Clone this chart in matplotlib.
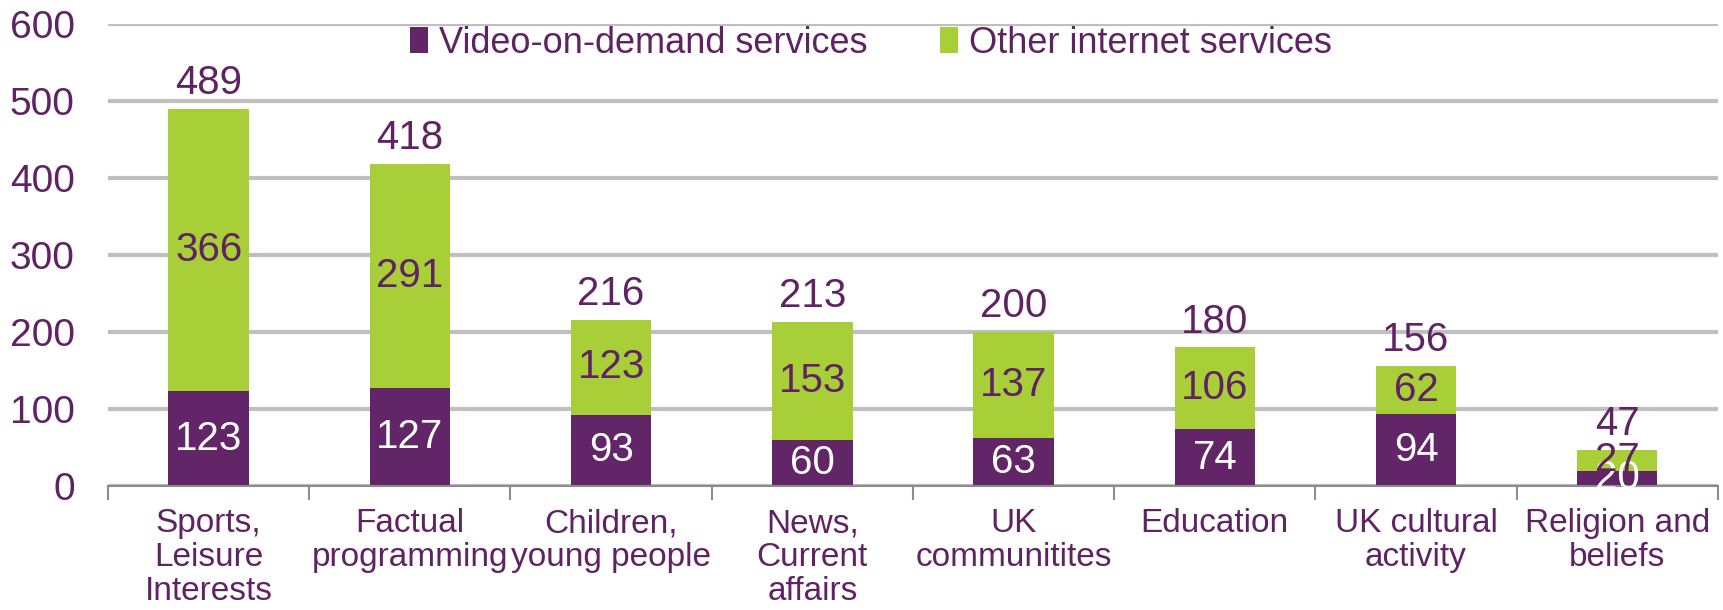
import matplotlib
matplotlib.use("Agg")
import matplotlib.pyplot as plt
from matplotlib import font_manager
import numpy as np

categories = ["Sports,\nLeisure\nInterests", "Factual\nprogramming", "Children,\nyoung people",
              "News,\nCurrent\naffairs", "UK\ncommunitites", "Education",
              "UK cultural\nactivity", "Religion and\nbeliefs"]
vod = [123, 127, 93, 60, 63, 74, 94, 20]
other = [366, 291, 123, 153, 137, 106, 62, 27]
series_names = ["Video-on-demand services", "Other internet services"]
yticks = [0, 100, 200, 300, 400, 500, 600]

PURPLE = "#622567"
GREEN = "#A8CF38"
TEXT = "#5F2262"
GRID = "#BFBFBF"

installed = {f.name for f in font_manager.fontManager.ttflist}
base_font = "Liberation Sans" if "Liberation Sans" in installed else "DejaVu Sans"
plt.rcParams["font.family"] = [base_font, "DejaVu Sans"]

fig = plt.figure(figsize=(17.23, 6.10), dpi=100)
ax = fig.add_axes([0.0627, 0.203, 0.9343, 0.758])

x = np.arange(len(categories))
w = 0.40
totals = [a + b for a, b in zip(vod, other)]

ax.bar(x, vod, w, color=PURPLE, label=series_names[0], zorder=3)
ax.bar(x, other, w, bottom=vod, color=GREEN, label=series_names[1], zorder=3)

LABEL_SIZE = 29
for i in range(len(x)):
    ax.text(x[i], vod[i] / 2, str(vod[i]), ha="center", va="center",
            color="white", fontsize=LABEL_SIZE, zorder=5)
    ax.text(x[i], vod[i] + other[i] / 2, str(other[i]), ha="center", va="center",
            color=TEXT, fontsize=LABEL_SIZE, zorder=5)
    ax.annotate(str(totals[i]), (x[i], totals[i]), xytext=(0, 5),
                textcoords="offset points", ha="center", va="bottom",
                color=TEXT, fontsize=LABEL_SIZE, zorder=5)

ax.set_xlim(-0.5, len(x) - 0.5)
ax.set_ylim(0, 600)
ax.set_yticks(yticks)
ax.set_yticklabels([str(v) for v in yticks])
ax.yaxis.grid(True, color=GRID, linewidth=3, zorder=0)
ax.set_axisbelow(True)

ax.set_xticks(x)
ax.set_xticklabels(categories, fontsize=24, color=TEXT, linespacing=1.12)
ax.set_xticks(np.arange(-0.5, len(x)), minor=True)
ax.tick_params(axis="x", which="major", length=0, pad=16)
ax.tick_params(axis="x", which="minor", length=10, width=1.5, color="#8C8C8C", direction="out")
ax.tick_params(axis="y", length=0, pad=24, labelsize=28, labelcolor=TEXT)

for s in ["top", "right", "left"]:
    ax.spines[s].set_visible(False)
ax.spines["bottom"].set_color("#8C8C8C")
ax.spines["bottom"].set_linewidth(1.5)
ax.spines["bottom"].set_zorder(4)

leg = ax.legend(loc="center", bbox_to_anchor=(0.474, 0.958), ncol=2, frameon=False,
                prop={"size": 26}, handlelength=0.5, handleheight=0.7,
                handletextpad=0.3, columnspacing=2.0, borderpad=0.0)
for t in leg.get_texts():
    t.set_color(TEXT)

fig.savefig("out.png", dpi=100)
